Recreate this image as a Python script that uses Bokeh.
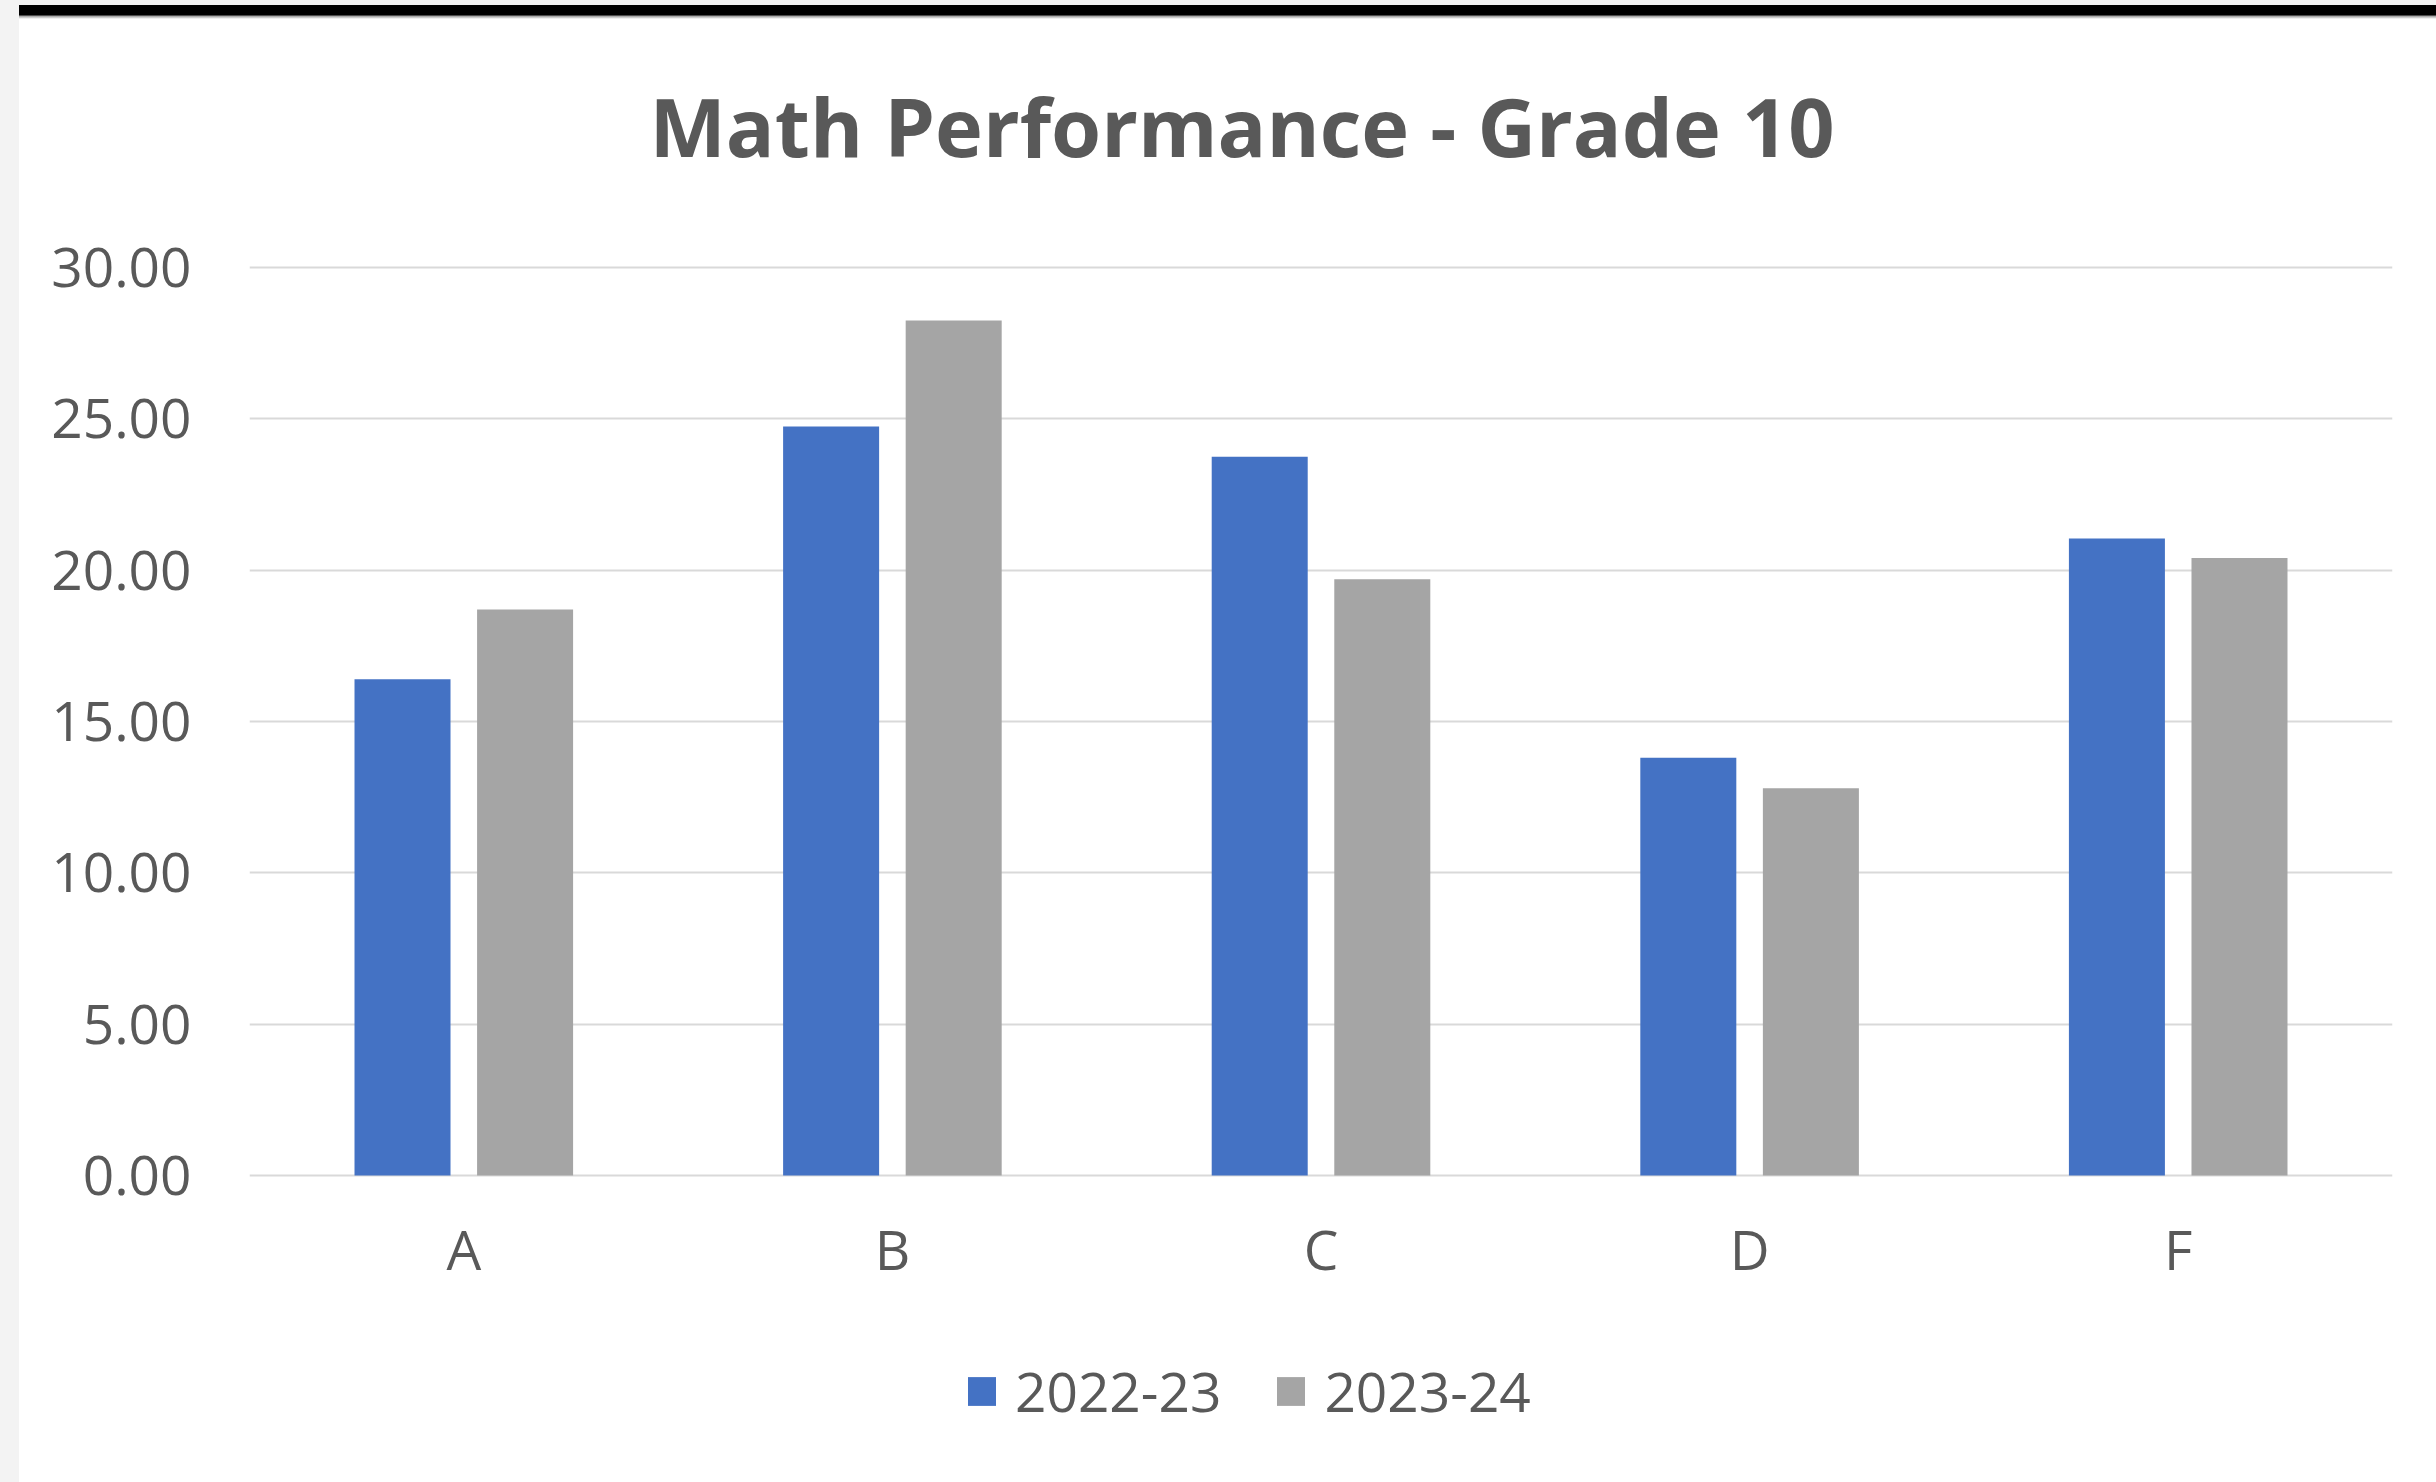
from bokeh.embed import file_html
from bokeh.layouts import column, row
from bokeh.models import (ColumnDataSource, Div, FactorRange, FixedTicker, Legend,
                          LegendItem, NumeralTickFormatter, Range1d, Title)
from bokeh.plotting import figure
from bokeh.resources import INLINE
from bokeh.transform import dodge

# Share of grade-10 students per math grade, two school years
grades = ["A", "B", "C", "D", "F"]
share_2022_23 = [16.40, 24.75, 23.75, 13.80, 21.05]
share_2023_24 = [18.70, 28.25, 19.70, 12.80, 20.40]
series_labels = ["2022-23", "2023-24"]
series_colors = ["#4472C4", "#A5A5A5"]
y_ticks = [0, 5, 10, 15, 20, 25, 30]
title_text = "Math Performance - Grade 10"

TEXT = "#595959"
GRID = "#D9D9D9"
FONT = "Open Sans"
LABEL_SIZE = "55px"

source = ColumnDataSource(dict(grade=grades, y1=share_2022_23, y2=share_2023_24))

# The plot area runs down past zero so the category labels and the legend
# can sit inside it, under the zero line.
p = figure(
    x_range=FactorRange(factors=grades, range_padding=0),
    y_range=Range1d(-9.48, 30.1),
    width=2417, height=1463,
    min_border_left=230, min_border_right=44,
    min_border_top=245, min_border_bottom=20,
    output_backend="svg", toolbar_location=None,
    outline_line_color=None,
    background_fill_color="white", border_fill_color="white",
)
p.title = None

r1 = p.vbar(x=dodge("grade", -0.143, range=p.x_range), top="y1", width=0.224,
            source=source, fill_color=series_colors[0], line_color=None)
r2 = p.vbar(x=dodge("grade", 0.143, range=p.x_range), top="y2", width=0.224,
            source=source, fill_color=series_colors[1], line_color=None)

# spacer between plot area and title, then the title itself
p.add_layout(Title(text=" ", text_font_size="10px", standoff=66), "above")
p.add_layout(Title(text=title_text, align="left", offset=400, standoff=10,
                   text_font=FONT, text_font_size="81px", text_font_style="bold",
                   text_color=TEXT), "above")

# axes
p.yaxis.ticker = FixedTicker(ticks=y_ticks)
p.yaxis.formatter = NumeralTickFormatter(format="0.00")
for ax in (p.xaxis[0], p.yaxis[0]):
    ax.axis_line_color = None
    ax.major_tick_line_color = None
    ax.minor_tick_line_color = None
    ax.major_tick_out = 0
    ax.major_tick_in = 0
    ax.major_label_text_font = FONT
    ax.major_label_text_font_size = LABEL_SIZE
    ax.major_label_text_color = TEXT
p.yaxis.major_label_standoff = 58
p.xaxis.fixed_location = 0
p.xaxis.major_label_standoff = 35

p.ygrid.grid_line_color = GRID
p.ygrid.grid_line_width = 2
p.xgrid.grid_line_color = None

legend = Legend(
    items=[LegendItem(label=series_labels[0], renderers=[r1]),
           LegendItem(label=series_labels[1], renderers=[r2])],
    orientation="horizontal", location=(715, 34),
    glyph_width=35, glyph_height=36, label_standoff=16, spacing=52,
    padding=0, margin=0, border_line_color=None, background_fill_alpha=0,
    label_text_font=FONT, label_text_font_size=LABEL_SIZE, label_text_color=TEXT,
)
p.add_layout(legend, "center")

# window chrome: light strips and black rule above the chart
left_strip = Div(width=19, height=1482, margin=0, styles={"background-color": "#f3f3f3"})
top_strip = Div(width=2417, height=5, margin=0, styles={"background-color": "#f3f3f3"})
black_rule = Div(width=2417, height=14, margin=0,
                 styles={"background": "linear-gradient(to bottom, #000 0px, #000 10px, #9a9a9a 11px, #ffffff 14px)"})

page = row(left_strip, column(top_strip, black_rule, p, spacing=0), spacing=0)

open("out.html", "w").write(file_html(page, INLINE))
